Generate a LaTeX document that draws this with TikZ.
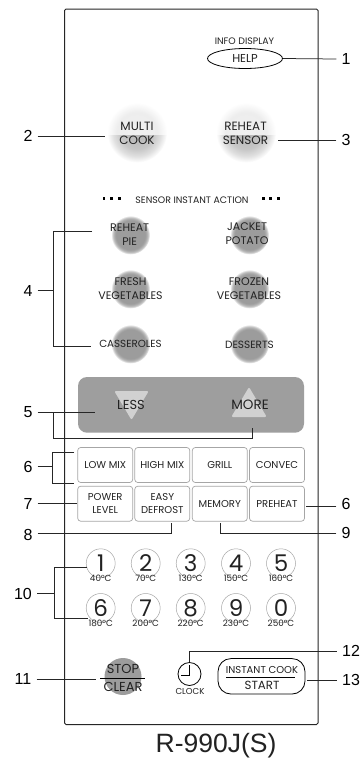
\documentclass[tikz,border=0pt]{standalone}
\usepackage{fontspec}
\setmainfont{Liberation Sans}
\newfontfamily\panelfont{Poppins}
\usetikzlibrary{shapes.geometric,calc}
\definecolor{ink}{HTML}{222222}
\definecolor{btn}{HTML}{9C9C9C}
\pgfdeclareradialshading{glowdark}{\pgfpointorigin}{color(0bp)=(btn);color(19bp)=(btn);color(22bp)=(btn!70!white);color(25bp)=(white)}
\pgfdeclareradialshading{glowpale}{\pgfpointorigin}{color(0bp)=(black!6);color(17bp)=(black!7);color(25bp)=(white)}
\pgfdeclareradialshading{glowlow}{\pgfpointorigin}{color(0bp)=(black!30);color(14bp)=(black!22);color(20bp)=(black!12);color(25bp)=(white)}
\tikzset{
  callout/.style={font=\fontsize{16}{16}\selectfont,text=black,inner ysep=0pt,inner xsep=5pt},
  lead/.style={draw=black!85,line width=.75pt},
  btxt/.style={font=\panelfont\fontsize{#1}{14}\selectfont,text=ink,inner sep=0pt,align=center},
  btxt/.default=8,
  key/.style={draw=black!35,line width=.7pt,rounded corners=3pt,minimum width=55pt,minimum height=35pt,inner sep=0pt,align=center,font=\panelfont\fontsize{10}{12.5}\selectfont,text=ink},
  numring/.style={circle,draw=black!35,line width=.5pt,minimum size=29pt,inner sep=0pt},
  digit/.style={font=\panelfont\fontsize{23}{23}\selectfont,text=ink,inner sep=0pt,anchor=base,text height=16pt,text depth=0pt},
  temp/.style={font=\panelfont\fontsize{8.8}{8.8}\selectfont,text=ink,inner sep=0pt,anchor=base,text height=6pt,text depth=0pt},
  dotmark/.style={fill=black,minimum size=2.6pt,inner sep=0pt}
}
\newcommand{\glow}[4]{\shade[shading=#4] (#1,#2) circle (#3);}
\begin{document}
\begin{tikzpicture}[x=1pt,y=-1pt]
\useasboundingbox (0,0) rectangle (362,764);
\fill[white] (0,0) rectangle (362,764);
% frame
\draw[black!85,line width=1pt,rounded corners=1.5pt] (64.5,9) rectangle (318,724.5);
% glow buttons
\begin{scope}\clip (100,100) rectangle (175,135);\glow{137}{132.5}{30}{glowpale}\end{scope}
\begin{scope}\clip (100,135) rectangle (175,165);\glow{137}{132.5}{30}{glowlow}\end{scope}
\begin{scope}\clip (210,100) rectangle (285,135);\glow{246}{132.5}{30}{glowpale}\end{scope}
\begin{scope}\clip (210,135) rectangle (285,165);\glow{246}{132.5}{30}{glowlow}\end{scope}
\foreach \cx/\cy in {130.5/235,249.5/235,130.5/289,249.5/289,130.5/344,249.5/344}{\glow{\cx}{\cy}{19.5}{glowdark}}
% top
\node[btxt=9.4] (info) at (244.5,41) {INFO DISPLAY};
\node[ellipse,draw=black,line width=.8pt,minimum width=75pt,minimum height=20pt,inner sep=0pt,font=\panelfont\fontsize{11.5}{11.5}\selectfont,text=ink] (help) at (245,58.5) {HELP};
\node[callout] (l1) at (346,59) {1};
\draw[lead] (help.east) -- (l1.west);
\node[btxt=12] (multi) at (137,133) {MULTI\\COOK};
\node[btxt=12] (reheat) at (245.5,133) {REHEAT\\SENSOR};
\node[callout] (l2) at (28,135.5) {2};
\coordinate (e2) at (105,136.5);
\draw[lead] (l2.east |- e2) -- (e2);
\node[callout] (l3) at (346,140) {3};
\coordinate (e3) at (278,140);
\draw[lead] (l3.west |- e3) -- (e3);
% sensor title
\node[btxt=9.4] (sia) at (192,200) {SENSOR INSTANT ACTION};
\foreach \n/\x in {a/104,b/111.7,c/119.3,d/263.3,e/270.7,f/278.3}{\node[dotmark] (dot\n) at (\x,198.3) {};}
% sensor keys
\node[btxt=11] (k1) at (129.7,235) {REHEAT\\PIE};
\node[btxt=11] (k2) at (247,234) {JACKET\\POTATO};
\node[btxt=11] (k3) at (130.5,289) {FRESH\\VEGETABLES};
\node[btxt=11] (k4) at (249,288.5) {FROZEN\\VEGETABLES};
\node[btxt=10.3] (k5) at (130.5,344) {CASSEROLES};
\node[btxt=10.5] (k6) at (249.5,344.5) {DESSERTS};
\node[callout] (l4) at (28,291) {4};
\coordinate (b4) at (53,290);
\coordinate (e4a) at (92,231.7);
\coordinate (e4b) at (90.5,346);
\draw[lead] (l4.east |- b4) -- (b4);
\draw[lead] (e4a) -- (b4 |- e4a) -- (b4 |- e4b) -- (e4b);
% panel
\fill[black!38,rounded corners=9pt] (78,377) rectangle (304,432.7);
\fill[black!18,draw=black!18,line width=2pt,line join=round] (116,392) -- (147,392) -- (131.5,418) -- cycle;
\fill[black!18,draw=black!18,line width=2pt,line join=round] (233,416) -- (265,416) -- (249,389) -- cycle;
\node[btxt=13] (less) at (131,405) {LESS};
\node[btxt=13.5] (more) at (250,405) {MORE};
\node[callout] (l5) at (28,412) {5};
\coordinate (e5a) at (95,412);
\coordinate (e5b) at (252,428);
\draw[lead] (l5.east |- e5a) -- (e5a);
\draw[lead] (53,412) -- (53,438) -- (e5b |- 0,438) -- (e5b);
% keys
\node[key] (lowmix) at (105.2,465) {LOW MIX};
\node[key] (highmix) at (162.3,465) {HIGH MIX};
\node[key] (grill) at (219.8,465) {GRILL};
\node[key] (convec) at (277,465) {CONVEC};
\node[key] (power) at (105.2,503.7) {POWER\\LEVEL};
\node[key] (defrost) at (162.3,503.7) {EASY\\DEFROST};
\node[key] (memory) at (219.8,503.7) {MEMORY};
\node[key] (preheat) at (277,503.7) {PREHEAT};
\node[callout] (l6) at (28,466.5) {6};
\coordinate (b6) at (52,466);
\coordinate (e6a) at (74,452.7);
\coordinate (e6b) at (74,483);
\draw[lead] (l6.east |- b6) -- (b6);
\draw[lead] (e6a) -- (b6 |- e6a) -- (b6 |- e6b) -- (e6b);
\node[callout] (l7) at (28,504) {7};
\draw[lead] (l7.east |- power.west) -- (power.west);
\node[callout] (l6r) at (346,504) {6};
\coordinate (e6r) at (306,506);
\draw[lead] (l6r.west |- e6r) -- (e6r);
\node[callout] (l8) at (28,535) {8};
\coordinate (e8) at (171.5,523);
\draw[lead] (l8.east |- 0,533.5) -- (e8 |- 0,533.5) -- (e8);
\node[callout] (l9) at (346,533) {9};
\coordinate (e9) at (220,523);
\draw[lead] (l9.west |- 0,533.5) -- (e9 |- 0,533.5) -- (e9);
% number keys
\foreach \n/\x/\y/\d/\t in {a/100.7/563.3/1/40,b/145.7/563.3/2/70,c/190.7/563.3/3/130,d/236/563.3/4/150,e/281/563.3/5/160,f/100.7/608/6/180,g/145.7/608/7/200,h/190.7/608/8/220,i/236/608/9/230,j/281/608/0/250}{
  \node[numring] (ring\n) at (\x,\y) {};
  \node[digit] (dig\n) at (\x,\y+8.4) {\d};
  \node[temp] (tmp\n) at (\x,\y+18.2) {\t°C};
}
\node[callout] (l10) at (23,594) {10};
\coordinate (b10) at (54,593);
\coordinate (e10a) at (87,567.5);
\coordinate (e10b) at (88,618.5);
\draw[lead] (l10.east |- b10) -- (b10);
\draw[lead] (e10a) -- (b10 |- e10a) -- (b10 |- e10b) -- (e10b);
% stop
\fill[btn] (123,676.5) circle (18.5);
\node[btxt=13,anchor=base,text height=9pt,text depth=0pt] (stop) at (123,673.5) {STOP};
\node[btxt=13,anchor=base,text height=9pt,text depth=0pt] (clear) at (123,691) {CLEAR};
\draw[black,line width=.6pt] (100,678) -- (145,678);
\node[callout] (l11) at (23,679) {11};
\coordinate (e11) at (96,679.5);
\draw[lead] (l11.east |- e11) -- (e11);
% clock
\node[circle,draw=black,line width=.8pt,minimum size=23pt,inner sep=0pt] (clock) at (189.5,674) {};
\draw[black,line width=.8pt] (189.2,665) -- (189.2,675) -- (181,675);
\node[btxt=8.6] (clk) at (190,691) {CLOCK};
\node[callout] (l12) at (351,651) {12};
\draw[lead] (clock.north) |- (l12.west |- 0,651);
% start
\node[draw=black,line width=.8pt,rounded corners=13pt,minimum width=87pt,minimum height=35.5pt,inner sep=0pt] (start) at (261.5,676.3) {};
\node[btxt=10] (inst) at (262,669.5) {INSTANT COOK};
\node[btxt=11.8] (sta) at (262,685.5) {START};
\draw[black,line width=.6pt] (226,677.3) -- (295,677.3);
\node[callout] (l13) at (351,680) {13};
\coordinate (e13) at (307,680);
\draw[lead] (l13.west |- e13) -- (e13);
% model
\node[font=\fontsize{26.5}{26.5}\selectfont,text=ink,inner sep=0pt] (model) at (216,745.5) {R-990J(S)};
\end{tikzpicture}
\end{document}
